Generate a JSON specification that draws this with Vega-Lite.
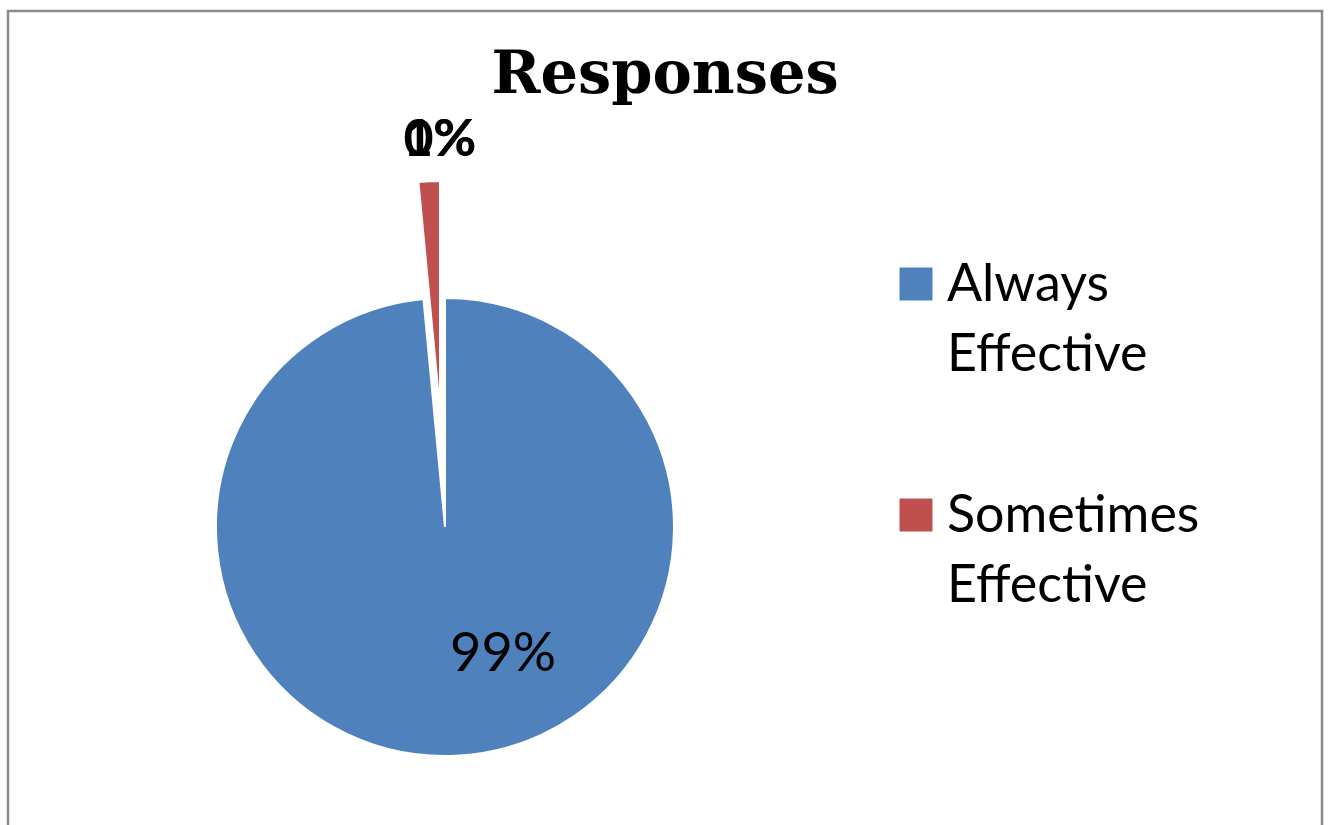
{
  "$schema": "https://vega.github.io/schema/vega-lite/v6.json",
  "width": 1314,
  "height": 814,
  "autosize": {"type": "none"},
  "padding": {"left": 8, "top": 11, "right": 7, "bottom": 0},
  "background": "white",
  "config": {"style": {"guide-label": {"lineHeight": 70, "dy": 17}}},
  "title": {"text": "Responses", "font": "DejaVu Serif", "fontWeight": "bold", "fontSize": 59, "anchor": "middle", "baseline": "alphabetic", "offset": -82, "dy": 60, "color": "black"},
  "data": {"values": [
    {"category": "Always Effective", "value": 98.5, "label": "99%"},
    {"category": "Sometimes Effective", "value": 1.5, "label": "1%"},
    {"category": "Not Effective", "value": 0, "label": "0%"}
  ]},
  "layer": [
    {
      "data": {"values": [{"frame": "border"}]},
      "mark": {"type": "rect", "fill": null, "stroke": "#8a8a8a", "strokeWidth": 2.5, "strokeDash": [2128, 1314, 814, 10]},
      "encoding": {}
    },
    {
      "mark": {"type": "arc", "outerRadius": 229, "stroke": "white", "strokeWidth": 2,
        "xOffset": {"expr": "datum.category === 'Always Effective' ? -220 : -225"},
        "yOffset": {"expr": "datum.category === 'Always Effective' ? 109 : -8"}},
      "encoding": {
        "theta": {"field": "value", "type": "quantitative", "stack": true},
        "order": {"field": "value", "sort": "descending"},
        "color": {"field": "category", "type": "nominal",
          "scale": {"domain": ["Always Effective", "Sometimes Effective", "Not Effective"], "range": ["#4F81BD", "#C0504D", "#FFFFFF"]},
          "legend": {"values": ["Always Effective", "Sometimes Effective"], "title": null, "orient": "none", "legendX": 882, "legendY": 247, "padding": 0,
            "symbolType": "square", "symbolSize": 1089, "symbolStrokeWidth": 0, "symbolOpacity": 1,
            "labelFont": "Lato", "labelFontSize": 52, "labelColor": "black", "labelOffset": 5, "labelBaseline": "alphabetic",
            "labelExpr": "split(datum.label, ' ')", "labelLimit": 0, "rowPadding": 108}
        }
      }
    },
    {
      "mark": {"type": "text", "align": "center", "baseline": "middle", "color": "black", "font": "Lato",
        "fontSize": {"expr": "datum.category === 'Always Effective' ? 54 : 52"},
        "fontWeight": {"expr": "datum.category === 'Always Effective' ? 'normal' : 'bold'"},
        "radius": {"expr": "datum.category === 'Always Effective' ? 128 : 270"},
        "xOffset": {"expr": "datum.category === 'Always Effective' ? -168 : (datum.category === 'Sometimes Effective' ? -213 : -225)"},
        "yOffset": {"expr": "datum.category === 'Always Effective' ? 109 : -8"}},
      "encoding": {
        "theta": {"field": "value", "type": "quantitative", "stack": true},
        "order": {"field": "value", "sort": "descending"},
        "text": {"field": "label", "type": "nominal"}
      }
    }
  ]
}
